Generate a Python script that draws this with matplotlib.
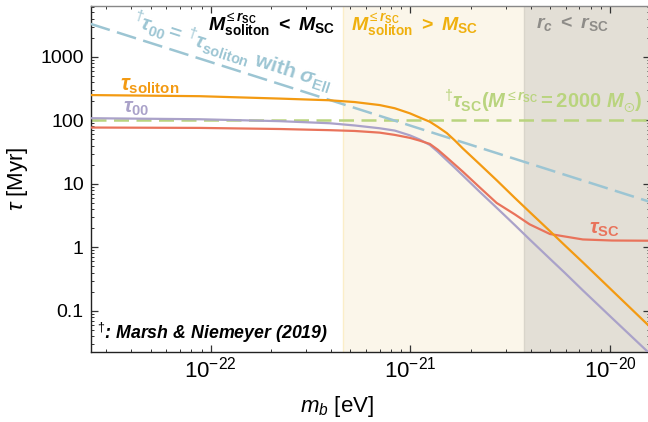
import matplotlib
matplotlib.use("Agg")
import matplotlib.pyplot as plt
import numpy as np

plt.rcParams["font.family"] = ["Liberation Sans", "DejaVu Sans"]
plt.rcParams["mathtext.fontset"] = "custom"
plt.rcParams["mathtext.rm"] = "Liberation Sans"
plt.rcParams["mathtext.it"] = "Liberation Sans:italic"
plt.rcParams["mathtext.bf"] = "Liberation Sans:bold"
plt.rcParams["mathtext.bfit"] = "Liberation Sans:italic:bold"
plt.rcParams["mathtext.fallback"] = "stixsans"

# boson mass grid [eV] and timescales [Myr]
m_b = [2.51e-23, 8.81e-23, 2.22e-22, 3.94e-22, 5.26e-22, 7.01e-22, 8.34e-22,
       9.93e-22, 1.11e-21, 1.25e-21, 1.37e-21, 1.52e-21, 1.67e-21, 1.83e-21,
       2.22e-21, 2.70e-21, 3.33e-21, 3.95e-21, 4.99e-21, 5.93e-21, 7.29e-21,
       1.02e-20, 1.58e-20]
tau_soliton = [250, 240, 220, 207, 194, 174, 155, 129, 111, 95, 79, 63, 48, 36,
               20.4, 11.4, 6.0, 3.6, 1.8, 1.07, 0.58, 0.21, 0.056]
tau_00 = [108, 104, 97, 90, 83, 75, 69, 58, 50, 41, 32, 23.5, 17.8, 13.5,
          7.5, 4.2, 2.24, 1.33, 0.66, 0.395, 0.21, 0.077, 0.021]
tau_sc = [77, 76, 73, 70, 68, 64, 59, 53, 48, 42.5, 34.5, 26, 20, 15.5,
          8.8, 5.0, 3.3, 2.3, 1.62, 1.48, 1.33, 1.28, 1.27]

# Marsh & Niemeyer (2019) reference lines
m_ref = [2.51e-23, 1.58e-20]
tau_ell = [3300, 5.2]
tau_sc_2000 = [100, 100]

# regime boundaries [eV]
m_mass_cut = 4.57e-22
m_core_cut = 3.72e-21
x_lim = (2.51e-23, 1.58e-20)
y_lim = (0.0227, 6400)

c_orange = "#F39A12"
c_purple = "#AAA2C9"
c_red = "#E9735B"
c_blue = "#9CC5D3"
c_green = "#B9D47E"
c_gold = "#EFB00E"
c_gray = "#8E8C88"

fig = plt.figure(figsize=(6.48, 4.22), dpi=100)
ax = fig.add_axes([0.140, 0.1666, 0.863, 0.82])

ax.axvspan(m_mass_cut, m_core_cut, color="#FBF6EA", zorder=0, lw=0)
ax.axvspan(m_core_cut, x_lim[1] * 2, color="#E3DFD6", zorder=0, lw=0)
ax.axvline(m_mass_cut, color="#FBEEC8", lw=1.0, zorder=0.5)
ax.axvline(m_core_cut, color="#D9D5CB", lw=1.0, zorder=0.5)

ax.plot(m_ref, tau_sc_2000, color=c_green, lw=1.8, dashes=(6, 3), zorder=2)
ax.plot(m_b, tau_00, color=c_purple, lw=1.6, zorder=3)
ax.plot(m_b, tau_sc, color=c_red, lw=1.6, zorder=4)
ax.plot(m_ref, tau_ell, color=c_blue, lw=1.8, dashes=(8, 3), zorder=3.5)
ax.plot(m_b, tau_soliton, color=c_orange, lw=1.6, zorder=5)

ax.set_xscale("log")
ax.set_yscale("log")
ax.set_xlim(*x_lim)
ax.set_ylim(*y_lim)

ax.set_yticks([0.1, 1, 10, 100, 1000])
ax.set_yticklabels(["0.1", "1", "10", "100", "1000"])
ax.set_xticks([1e-22, 1e-21, 1e-20])
ax.set_xticklabels([r"$10^{-22}$", r"$10^{-21}$", r"$10^{-20}$"])
ax.yaxis.set_minor_locator(matplotlib.ticker.LogLocator(base=10, subs=np.arange(2, 10), numticks=20))
ax.xaxis.set_minor_locator(matplotlib.ticker.LogLocator(base=10, subs=np.arange(2, 10), numticks=20))
ax.yaxis.set_minor_formatter(matplotlib.ticker.NullFormatter())
ax.xaxis.set_minor_formatter(matplotlib.ticker.NullFormatter())
ax.tick_params(which="both", direction="in", top=True, right=True, color="#333333")
ax.tick_params(which="major", length=5, width=0.9)
ax.tick_params(which="minor", length=2.5, width=0.7)
ax.tick_params(axis="y", pad=5, labelsize=14)
ax.tick_params(axis="x", pad=3.5, labelsize=16)
for side in ["left", "bottom"]:
    ax.spines[side].set_color("#222222")
for side in ["top", "right"]:
    ax.spines[side].set_color("#888888")
for s in ax.spines.values():
    s.set_linewidth(1.0)

ax.set_ylabel(r"$\tau$ [Myr]", fontsize=16)
ax.yaxis.set_label_coords(-0.109, 0.5)
ax.set_xlabel(r"$m_b$ [eV]", fontsize=16)
ax.xaxis.set_label_coords(0.44, -0.122)

# regime headers
ax.text(0.209, 0.943,
        r"$\mathbfit{M}_{\mathbf{soliton}}^{\leq \mathbfit{r}_{\mathbf{SC}}}\ \mathbf{<}\ \mathbfit{M}_{\mathbf{SC}}$",
        transform=ax.transAxes, fontsize=14, color="black", va="center", ha="left")
ax.text(0.465, 0.943,
        r"$\mathbfit{M}_{\mathbf{soliton}}^{\leq \mathbfit{r}_{\mathbf{SC}}}\ \mathbf{>}\ \mathbfit{M}_{\mathbf{SC}}$",
        transform=ax.transAxes, fontsize=14, color=c_gold, va="center", ha="left")
ax.text(0.797, 0.947,
        r"$\mathbfit{r}_{\mathbfit{c}}\ \mathbf{<}\ \mathbfit{r}_{\mathbf{SC}}$",
        transform=ax.transAxes, fontsize=14, color=c_gray, va="center", ha="left")

# curve labels
ax.text(0.2535, 0.866,
        r"$^{\dagger}\mathbfit{\tau}_{\mathbf{00}}\mathbf{=}\,^{\dagger}\mathbfit{\tau}_{\mathbf{soliton}}$ with $\mathbfit{\sigma}_{\mathbf{Ell}}$",
        transform=ax.transAxes, fontsize=15, fontweight="bold", color=c_blue,
        rotation=-18, ha="center", va="center", rotation_mode="anchor")
ax.text(0.053, 0.769, r"$\mathbfit{\tau}_{\mathbf{soliton}}$",
        transform=ax.transAxes, fontsize=15.5, color=c_orange, va="center", ha="left")
ax.text(0.058, 0.703, r"$\mathbfit{\tau}_{\mathbf{00}}$",
        transform=ax.transAxes, fontsize=15, color=c_purple, va="center", ha="left")
ax.text(0.891, 0.352, r"$\mathbfit{\tau}_{\mathbf{SC}}$",
        transform=ax.transAxes, fontsize=15, color=c_red, va="center", ha="left")
ax.text(0.632, 0.722,
        r"$^{\dagger}\mathbfit{\tau}_{\mathbf{SC}}\mathbf{(}\mathbfit{M}^{\leq \mathbfit{r}_{\mathbf{SC}}}\mathbf{=2000}\ \mathbfit{M}_{\odot}\mathbf{)}$",
        transform=ax.transAxes, fontsize=14.5, color=c_green, va="center", ha="left")

ax.text(0.011, 0.054, r"$^{\dagger}$: Marsh & Niemeyer (2019)",
        transform=ax.transAxes, fontsize=12.8, fontweight="bold", fontstyle="italic",
        color="black", va="center", ha="left")

fig.savefig("out.png", dpi=100)
